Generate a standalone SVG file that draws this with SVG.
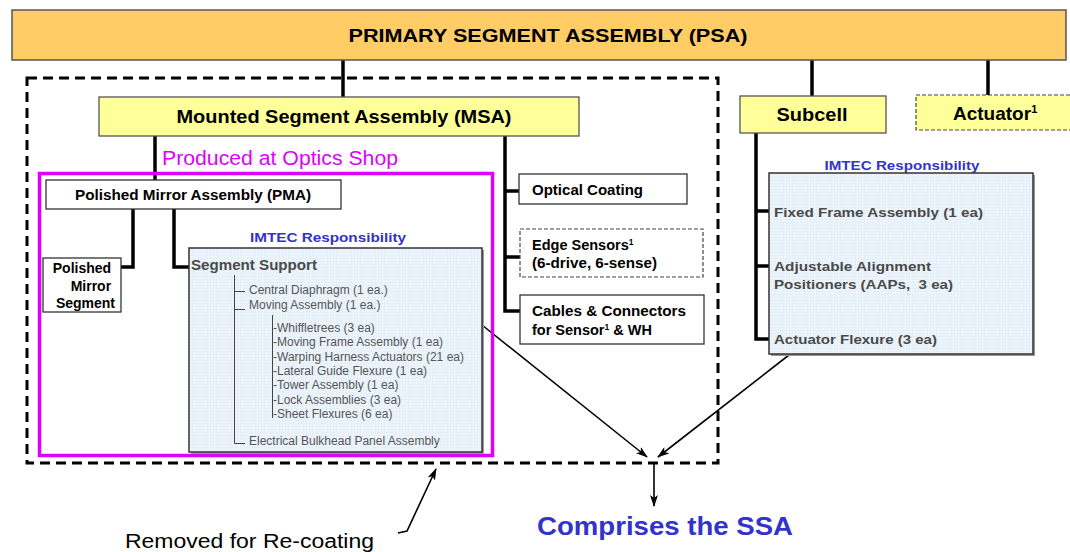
<svg xmlns="http://www.w3.org/2000/svg" width="1070" height="552" viewBox="0 0 1070 552">
<defs>
<style>
.t{font-family:"Liberation Sans",Arial,sans-serif;}
.b{font-weight:bold;}
.box{fill:#ffffff;stroke:#333;stroke-width:1.3;}
.ybox{fill:#ffff99;stroke:#555;stroke-width:1.3;}
.ibox{fill:url(#grid);stroke:#333;stroke-width:1.5;}
.conn{stroke:#000;stroke-width:3.5;fill:none;}
.thin{stroke:#444;stroke-width:1;fill:none;}
.arr{stroke:#000;stroke-width:1.6;fill:none;}
.blue{fill:#3333cc;}
.gray{fill:#4a4a4a;}
.sub{fill:#555;font-size:12px;}
</style>
<pattern id="grid" width="3" height="3" patternUnits="userSpaceOnUse">
<rect width="3" height="3" fill="#eef6fd"/>
<path d="M0,0.5H3M0.5,0V3" stroke="#e2ecf5" stroke-width="0.6"/>
</pattern>
<marker id="ah" markerWidth="12" markerHeight="8" refX="11" refY="4" orient="auto" markerUnits="userSpaceOnUse">
<path d="M0,0 L12,4 L0,8 L3,4 z" fill="#000"/>
</marker>
</defs>
<rect width="1070" height="552" fill="#fff"/>

<g id="connectors">
<path class="conn" d="M343,60V97"/>
<path class="conn" d="M812,60V96"/>
<path class="conn" d="M988,60V95"/>
<path class="conn" d="M155,136V180"/>
<path class="conn" d="M505,136V311H520M505,191H519M505,257H520"/>
<path class="conn" d="M133,209V267H121"/>
<path class="conn" d="M174,209V267H189"/>
<path class="conn" d="M756,133V339H769M756,211H769M756,266H769"/>
<path class="arr" d="M482,325L647,457" marker-end="url(#ah)"/>
<path class="arr" d="M789,355L658,457" marker-end="url(#ah)"/>
<path class="arr" d="M654,463V506" marker-end="url(#ah)"/>
<path class="arr" d="M398,533L407,531L436,469" marker-end="url(#ah)"/>
</g>

<g id="removed-group">
<rect x="27" y="78" width="691" height="385" fill="none" stroke="#000" stroke-width="3" stroke-dasharray="10 6"/>
</g>

<g id="psa">
<rect x="12" y="10" width="1054" height="50" fill="#ffcc66" stroke="#555" stroke-width="1.5"/>
<text class="t b" x="548" y="42" font-size="19" text-anchor="middle" textLength="399" lengthAdjust="spacingAndGlyphs">PRIMARY SEGMENT ASSEMBLY (PSA)</text>
</g>

<g id="msa">
<rect class="ybox" x="99" y="97" width="480" height="39"/>
<text class="t b" x="344" y="123" font-size="19" text-anchor="middle" textLength="335" lengthAdjust="spacingAndGlyphs">Mounted Segment Assembly (MSA)</text>
</g>

<g id="subcell">
<rect class="ybox" x="740" y="96" width="146" height="37"/>
<text class="t b" x="812" y="121" font-size="19" text-anchor="middle" textLength="71" lengthAdjust="spacingAndGlyphs">Subcell</text>
</g>

<g id="actuator">
<rect x="916" y="95" width="160" height="35" fill="#ffff99" stroke="#444" stroke-width="1.2" stroke-dasharray="4 2"/>
<text class="t b" x="953" y="120" font-size="19">Actuator<tspan font-size="11" dy="-7">1</tspan></text>
</g>

<g id="optics-shop">
<text class="t" x="162" y="165" font-size="20" fill="#dd00ff" textLength="236" lengthAdjust="spacingAndGlyphs">Produced at Optics Shop</text>
<rect x="39.5" y="173.5" width="453" height="282" fill="none" stroke="#dd00ff" stroke-width="3.5"/>
</g>

<g id="pma">
<rect class="box" x="46" y="180" width="295" height="29"/>
<text class="t b" x="193" y="200" font-size="14" text-anchor="middle" textLength="236" lengthAdjust="spacingAndGlyphs">Polished Mirror Assembly (PMA)</text>
</g>

<g id="pms">
<rect class="box" x="43" y="258" width="78" height="54"/>
<text class="t b" font-size="14" text-anchor="end">
<tspan x="115" y="273">Polished</tspan>
<tspan x="115" y="291">Mirror</tspan>
<tspan x="115" y="308">Segment</tspan>
</text>
</g>

<g id="segment-support">
<text class="t b blue" x="328" y="242" font-size="13" text-anchor="middle" textLength="156" lengthAdjust="spacingAndGlyphs">IMTEC Responsibility</text>
<rect x="191" y="250" width="293" height="204" fill="#999"/>
<rect class="ibox" x="189" y="248" width="293" height="204"/>
<text class="t b gray" x="191" y="270" font-size="14" textLength="126" lengthAdjust="spacingAndGlyphs">Segment Support</text>
<path class="thin" d="M234.5,275V443.5H245M234.5,291.5H245M234.5,309.5H245"/>
<path class="thin" d="M272.5,315V418"/>
<g class="t sub">
<text x="249" y="294">Central Diaphragm (1 ea.)</text>
<text x="249" y="309">Moving Assembly (1 ea.)</text>
<text x="273" y="332">-Whiffletrees (3 ea)</text>
<text x="273" y="346">-Moving Frame Assembly (1 ea)</text>
<text x="273" y="361">-Warping Harness Actuators (21 ea)</text>
<text x="273" y="375">-Lateral Guide Flexure (1 ea)</text>
<text x="273" y="389">-Tower Assembly (1 ea)</text>
<text x="273" y="404">-Lock Assemblies (3 ea)</text>
<text x="273" y="418">-Sheet Flexures (6 ea)</text>
<text x="249" y="445">Electrical Bulkhead Panel Assembly</text>
</g>
</g>

<g id="optical-coating">
<rect class="box" x="519" y="174" width="168" height="30"/>
<text class="t b" x="532" y="195" font-size="14" textLength="111" lengthAdjust="spacingAndGlyphs">Optical Coating</text>
</g>

<g id="edge-sensors">
<rect x="520" y="229" width="183" height="48" fill="#fff" stroke="#444" stroke-width="1.2" stroke-dasharray="4 2"/>
<text class="t b" x="532" y="250" font-size="14.5">Edge Sensors<tspan font-size="8.5" dy="-5">1</tspan></text>
<text class="t b" x="532" y="268" font-size="14.5" textLength="125" lengthAdjust="spacingAndGlyphs">(6-drive, 6-sense)</text>
</g>

<g id="cables">
<rect class="box" x="520" y="295" width="184" height="49"/>
<text class="t b" x="532" y="316" font-size="14.5" textLength="154" lengthAdjust="spacingAndGlyphs">Cables &amp; Connectors</text>
<text class="t b" x="532" y="335" font-size="14.5">for Sensor<tspan font-size="8.5" dy="-5">1</tspan><tspan dy="5"> &amp; WH</tspan></text>
</g>

<g id="subcell-parts">
<text class="t b blue" x="902" y="170" font-size="13" text-anchor="middle" textLength="155" lengthAdjust="spacingAndGlyphs">IMTEC Responsibility</text>
<rect x="771" y="175" width="264" height="181" fill="#999"/>
<rect class="ibox" x="769" y="173" width="264" height="181"/>
<g class="t b gray" font-size="13">
<text x="774" y="217" textLength="209" lengthAdjust="spacingAndGlyphs">Fixed Frame Assembly (1 ea)</text>
<text x="774" y="271" textLength="157" lengthAdjust="spacingAndGlyphs">Adjustable Alignment</text>
<text x="774" y="289" textLength="179" lengthAdjust="spacingAndGlyphs" xml:space="preserve">Positioners (AAPs,  3 ea)</text>
<text x="774" y="344" textLength="163" lengthAdjust="spacingAndGlyphs">Actuator Flexure (3 ea)</text>
</g>
</g>

<g id="comprises">
<text class="t b blue" x="537" y="535" font-size="26" textLength="256" lengthAdjust="spacingAndGlyphs">Comprises the SSA</text>
</g>

<g id="removed-label">
<text class="t" x="125" y="548" font-size="20" textLength="249" lengthAdjust="spacingAndGlyphs">Removed for Re-coating</text>
</g>
</svg>
